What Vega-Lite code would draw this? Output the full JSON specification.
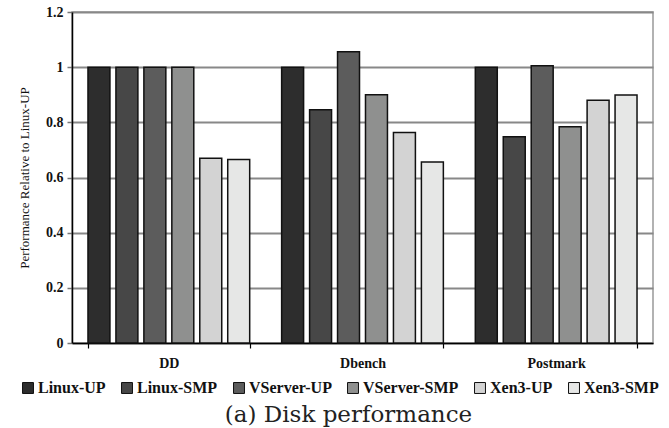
{
  "$schema": "https://vega.github.io/schema/vega-lite/v6.json",
  "width": 581,
  "height": 331,
  "autosize": "none",
  "padding": {"left": 72, "top": 12, "right": 16, "bottom": 85},
  "background": "white",
  "data": {"values": [
    {"test": "DD", "config": "Linux-UP", "value": 1.0},
    {"test": "DD", "config": "Linux-SMP", "value": 1.0},
    {"test": "DD", "config": "VServer-UP", "value": 1.0},
    {"test": "DD", "config": "VServer-SMP", "value": 1.0},
    {"test": "DD", "config": "Xen3-UP", "value": 0.670},
    {"test": "DD", "config": "Xen3-SMP", "value": 0.665},
    {"test": "Dbench", "config": "Linux-UP", "value": 1.0},
    {"test": "Dbench", "config": "Linux-SMP", "value": 0.846},
    {"test": "Dbench", "config": "VServer-UP", "value": 1.056},
    {"test": "Dbench", "config": "VServer-SMP", "value": 0.900},
    {"test": "Dbench", "config": "Xen3-UP", "value": 0.763},
    {"test": "Dbench", "config": "Xen3-SMP", "value": 0.656},
    {"test": "Postmark", "config": "Linux-UP", "value": 1.0},
    {"test": "Postmark", "config": "Linux-SMP", "value": 0.748},
    {"test": "Postmark", "config": "VServer-UP", "value": 1.005},
    {"test": "Postmark", "config": "VServer-SMP", "value": 0.784},
    {"test": "Postmark", "config": "Xen3-UP", "value": 0.880},
    {"test": "Postmark", "config": "Xen3-SMP", "value": 0.899}
  ]},
  "mark": {"type": "bar", "stroke": "#111111", "strokeWidth": 1.5},
  "encoding": {
    "x": {
      "field": "test", "type": "nominal", "sort": ["DD", "Dbench", "Postmark"],
      "scale": {"paddingInner": 0.165, "paddingOuter": 0.0825},
      "axis": {
        "title": null, "labelAngle": 0, "tickBand": "extent",
        "labelFont": "Liberation Serif", "labelFontWeight": "bold", "labelFontSize": 14,
        "labelColor": "#111", "labelPadding": 8,
        "domainColor": "#000", "domainWidth": 1.5,
        "tickColor": "#000", "tickSize": 5, "tickWidth": 1.2, "grid": false
      }
    },
    "xOffset": {
      "field": "config",
      "sort": ["Linux-UP", "Linux-SMP", "VServer-UP", "VServer-SMP", "Xen3-UP", "Xen3-SMP"],
      "scale": {"paddingInner": 0.2143, "paddingOuter": 0}
    },
    "y": {
      "field": "value", "type": "quantitative",
      "scale": {"domain": [0, 1.2], "nice": false},
      "axis": {
        "title": "Performance Relative to Linux-UP",
        "titleFont": "Liberation Serif", "titleFontWeight": "normal", "titleFontSize": 13,
        "titleColor": "#111", "titlePadding": 14,
        "values": [0, 0.2, 0.4, 0.6, 0.8, 1, 1.2], "format": "~g",
        "labelFont": "Liberation Serif", "labelFontWeight": "bold", "labelFontSize": 14,
        "labelColor": "#111", "labelPadding": 4,
        "domainColor": "#000", "domainWidth": 1.5,
        "tickColor": "#777", "tickSize": 5, "tickWidth": 1.5,
        "grid": true, "gridColor": "#888", "gridWidth": 2
      }
    },
    "color": {
      "field": "config", "type": "nominal",
      "scale": {
        "domain": ["Linux-UP", "Linux-SMP", "VServer-UP", "VServer-SMP", "Xen3-UP", "Xen3-SMP"],
        "range": ["#2d2d2d", "#474747", "#5c5c5c", "#8f908f", "#d3d3d3", "#e6e7e6"]
      },
      "legend": {
        "title": null, "orient": "none", "direction": "horizontal", "columns": 6,
        "legendX": -52, "legendY": 368,
        "symbolType": "square", "symbolSize": 120, "symbolStrokeColor": "#111", "symbolStrokeWidth": 1,
        "symbolOpacity": 1,
        "labelFont": "Liberation Serif", "labelFontWeight": "bold", "labelFontSize": 16,
        "labelColor": "#111", "labelOffset": 2, "columnPadding": 13
      }
    }
  },
  "title": {
    "text": "(a) Disk performance", "orient": "bottom", "anchor": "middle",
    "font": "DejaVu Serif", "fontWeight": "normal", "fontSize": 23, "color": "#222",
    "offset": 8, "dx": -14
  },
  "config": {"view": {"stroke": "#999", "strokeWidth": 1.5}}
}
